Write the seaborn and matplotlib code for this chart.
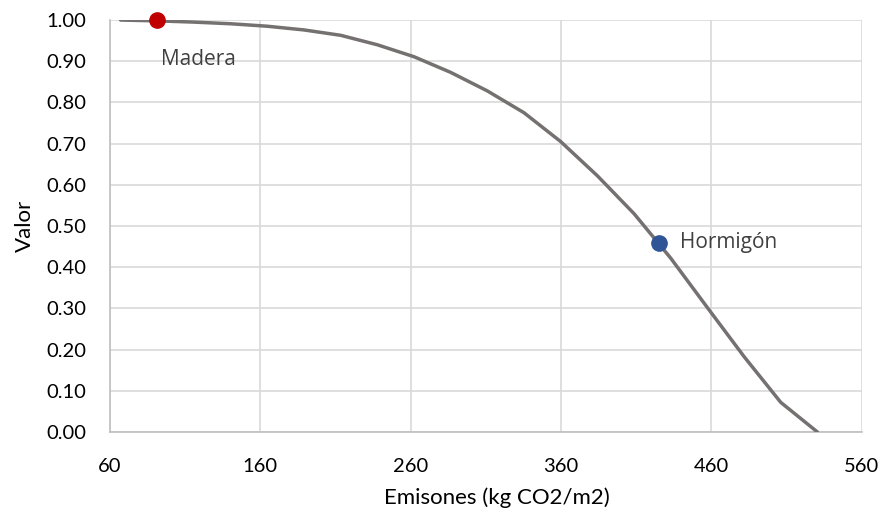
import matplotlib
matplotlib.use("Agg")
import matplotlib.pyplot as plt
import seaborn as sns
import pandas as pd

# Data
emisiones = [67, 91.4, 115.8, 140.2, 164.6, 189, 213.4, 237.8, 262.2, 286.6,
             311, 335.4, 359.8, 384.2, 408.6, 433, 457.4, 481.8, 506.2, 530.6]
valor = [1.000, 0.998, 0.995, 0.991, 0.985, 0.976, 0.963, 0.940, 0.911, 0.873,
         0.828, 0.775, 0.705, 0.622, 0.530, 0.422, 0.302, 0.183, 0.072, 0.000]
puntos_nombre = ["Madera", "Hormigón"]
puntos_x = [91, 425]
puntos_y = [1.00, 0.46]
puntos_color = ["#C00000", "#2F5597"]
x_ticks = [60, 160, 260, 360, 460, 560]
y_ticks = [0.0, 0.1, 0.2, 0.3, 0.4, 0.5, 0.6, 0.7, 0.8, 0.9, 1.0]

sns.set_theme(style="white")
plt.rcParams['font.family'] = ['Lato', 'DejaVu Sans']

fig = plt.figure(figsize=(8.81, 5.14), dpi=100)
ax = fig.add_axes([0.1249, 0.1595, 0.978 - 0.1249, 0.961 - 0.1595])

df = pd.DataFrame({"x": emisiones, "y": valor})
sns.lineplot(data=df, x="x", y="y", ax=ax, color="#767171", linewidth=2.5,
             sort=False, zorder=3)

for nm, px, py, c in zip(puntos_nombre, puntos_x, puntos_y, puntos_color):
    ax.plot([px], [py], marker="o", markersize=11, color=c, linestyle="none",
            zorder=4, clip_on=False)

ax.text(94, 0.905, "Madera", fontsize=15, color="#404040", va="center",
        ha="left", family=['Open Sans', 'DejaVu Sans'])
ax.text(439.5, 0.46, "Hormigón", fontsize=15, color="#404040", va="center",
        ha="left", family=['Open Sans', 'DejaVu Sans'])

ax.set_xlim(60, 560)
ax.set_ylim(0, 1.0)
ax.set_xticks(x_ticks)
ax.set_xticklabels([str(t) for t in x_ticks])
ax.set_yticks(y_ticks)
ax.set_yticklabels([f"{t:.2f}" for t in y_ticks])
ax.grid(True, color="#D9D9D9", linewidth=1.2)
ax.set_axisbelow(True)
ax.tick_params(axis="both", length=0, labelsize=14.5, colors="#000000")
ax.tick_params(axis="x", pad=19)
ax.tick_params(axis="y", pad=17)

for s in ["top", "right"]:
    ax.spines[s].set_visible(False)
for s in ["left", "bottom"]:
    ax.spines[s].set_color("#BFBFBF")
    ax.spines[s].set_linewidth(1.2)

ax.set_xlabel("Emisones (kg CO2/m2)", fontsize=16, color="#000000")
ax.xaxis.set_label_coords(0.515, -0.135)
ax.set_ylabel("Valor", fontsize=16, color="#000000", labelpad=8)

fig.savefig("out.png", dpi=100)
